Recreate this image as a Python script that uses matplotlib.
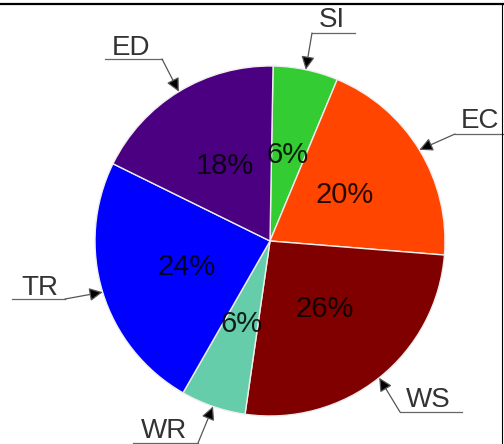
import numpy as np
import matplotlib
matplotlib.use("Agg")
import matplotlib.pyplot as plt
from matplotlib.lines import Line2D

# slice data (clockwise from 12 o'clock)
categories = ["SI", "EC", "WS", "WR", "TR", "ED"]
shares = [6, 20, 26, 6, 24, 18]
colors = ["#33cc33", "#ff4500", "#800000", "#66cdaa", "#0000ff", "#4b0082"]

# label layout in pixels: text baseline-left, underline span, line start
label_text_px = [(319, 27), (461, 128), (406, 407), (141, 438), (21, 295), (112, 55)]
underline_px = [(312, 355, 33), (455, 504, 134), (400, 462, 412), (133, 198, 443), (12, 65, 299), (105, 162, 59)]
line_start_px = [(312, 33), (455, 134), (400, 412), (198, 443), (65, 299), (162, 59)]

W, H = 504, 444
CX, CY, R = 270, 241, 175


def px(x, y):
    # pixel (from top-left) -> data coords, pie radius = 1
    return (x - CX) / R, (CY - y) / R


plt.rcParams['font.family'] = ['Liberation Sans', 'DejaVu Sans']

fig = plt.figure(figsize=(W / 100, H / 100), dpi=100)
ax = fig.add_axes([0, 0, 1, 1])

wedges, texts, autotexts = ax.pie(
    shares, colors=colors, startangle=89, counterclock=False,
    autopct='%1.0f%%', pctdistance=0.5,
    wedgeprops=dict(edgecolor='#eeeeee', linewidth=1.0),
    textprops=dict(fontsize=21, color='black', alpha=0.85))

ax.set_xlim(-CX / R, (W - CX) / R)
ax.set_ylim(-(H - CY) / R, CY / R)
ax.axis('off')

for i, w in enumerate(wedges):
    ang = np.deg2rad((w.theta1 + w.theta2) / 2)
    tip = (np.cos(ang), np.sin(ang))
    x0, x1, uy = underline_px[i]
    ax.plot([px(x0, uy)[0], px(x1, uy)[0]], [px(x0, uy)[1]] * 2, color='#666666', lw=0.9)
    ax.annotate('', xy=tip, xytext=px(*line_start_px[i]),
                arrowprops=dict(arrowstyle='-|>', mutation_scale=20,
                                fc='black', ec='#555555', lw=0.9, shrinkA=0, shrinkB=0))
    tx, ty = px(*label_text_px[i])
    ax.text(tx, ty, categories[i], fontsize=20, color='#333333', ha='left', va='baseline')

# frame lines at top and right
fig.add_artist(Line2D([0, 1], [1 - 4 / H, 1 - 4 / H], color='black', lw=1.6))
fig.add_artist(Line2D([1 - 2 / W, 1 - 2 / W], [0, 1 - 4 / H], color='black', lw=0.8))

fig.savefig("out.png", dpi=100)
